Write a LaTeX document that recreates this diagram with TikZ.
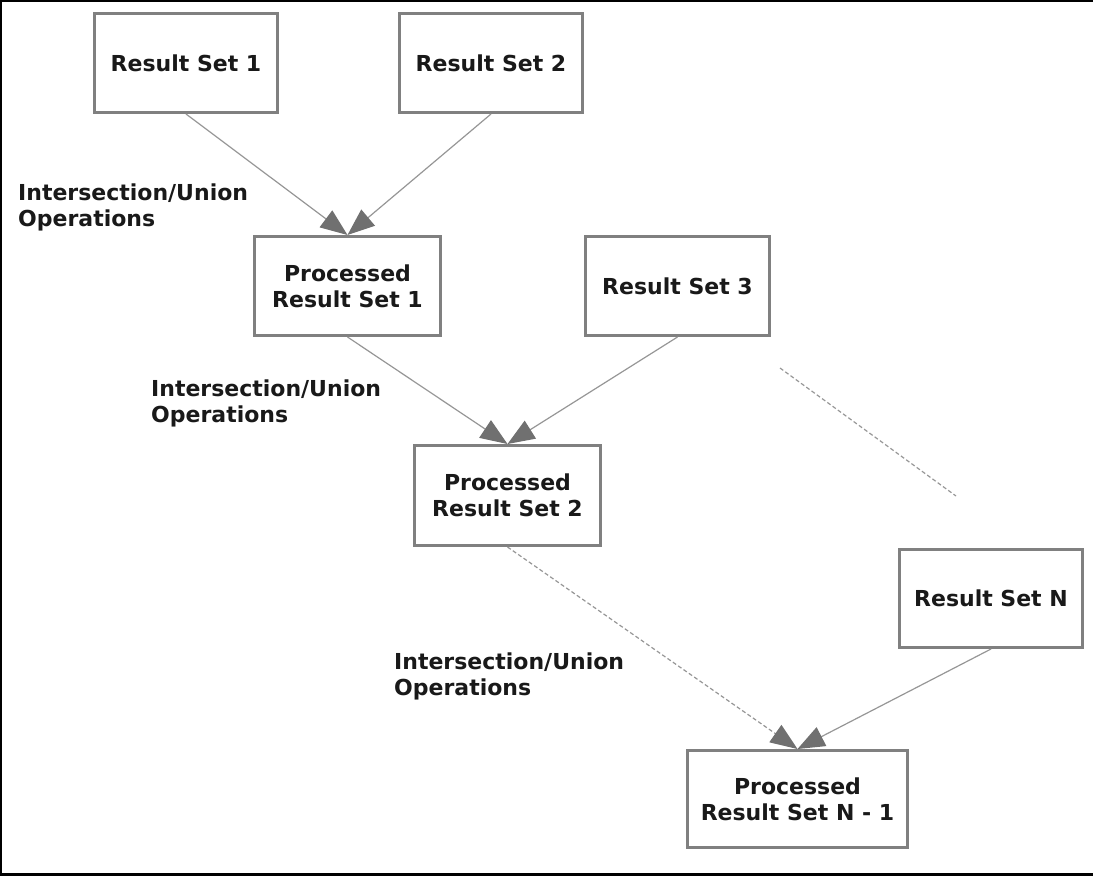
\documentclass[tikz,border=0pt]{standalone}
\usepackage{fontspec}
\setmainfont{DejaVu Sans}
\usetikzlibrary{arrows.meta}

\definecolor{boxgray}{RGB}{128,128,128}
\definecolor{linegray}{RGB}{150,150,150}
\definecolor{headgray}{RGB}{112,112,112}
\definecolor{inkgray}{RGB}{25,25,25}

\begin{document}
\begin{tikzpicture}[x=1pt,y=-1pt,
  every node/.style={font=\fontsize{22}{26}\selectfont\bfseries, text=inkgray},
  setbox/.style={draw=boxgray, line width=3pt, fill=white, align=center,
    inner sep=0pt, minimum width=#1, minimum height=99pt},
  setbox/.default=183pt,
  oplabel/.style={anchor=north west, align=left, inner sep=0pt},
  flow/.style={draw=linegray, line width=1.2pt,
    -{Triangle[length=27pt,width=21pt,color=headgray]}},
  dashedflow/.style={flow, dash pattern=on 4pt off 2.5pt},
  dashedlink/.style={draw=linegray, line width=1.2pt, dash pattern=on 4pt off 2.5pt}
]
\useasboundingbox (0,0) rectangle (1093,876);

% outer frame
\draw[black, line width=2.5pt] (1093,1.2) -- (1.2,1.2) -- (1.2,874.5) -- (1093,874.5);

% result sets and processed results
\node[setbox] (rs1) at (186,63) {Result Set 1};
\node[setbox] (rs2) at (491,63) {Result Set 2};
\node[setbox=186pt] (prs1) at (347.5,286) {Processed\\Result Set 1};
\node[setbox=184pt] (rs3) at (677.5,286) {Result Set 3};
\node[setbox=186pt, minimum height=100pt] (prs2) at (507.5,495.5) {Processed\\Result Set 2};
\node[setbox, minimum height=98pt] (rsn) at (991,598.5) {Result Set N};
\node[setbox=220pt, minimum height=97pt] (prsn) at (797.5,799) {Processed\\Result Set N - 1};

% operation labels
\node[oplabel] (op1) at (18,184) {Intersection/Union\\Operations};
\node[oplabel] (op2) at (151,380) {Intersection/Union\\Operations};
\node[oplabel] (op3) at (394,653) {Intersection/Union\\Operations};

% connectors
\draw[flow] (rs1.south) -- (prs1.north);
\draw[flow] (rs2.south) -- (prs1.north);
\draw[flow] (prs1.south) -- (prs2.north);
\draw[flow] (rs3.south) -- (prs2.north);
\draw[dashedflow] (prs2.south) -- (prsn.north);
\draw[flow] (rsn.south) -- (prsn.north);

% elided sets between 3 and N
\coordinate (gapA) at (780,368);
\coordinate (gapB) at (956,496);
\draw[dashedlink] (gapA) -- (gapB);
\end{tikzpicture}
\end{document}
